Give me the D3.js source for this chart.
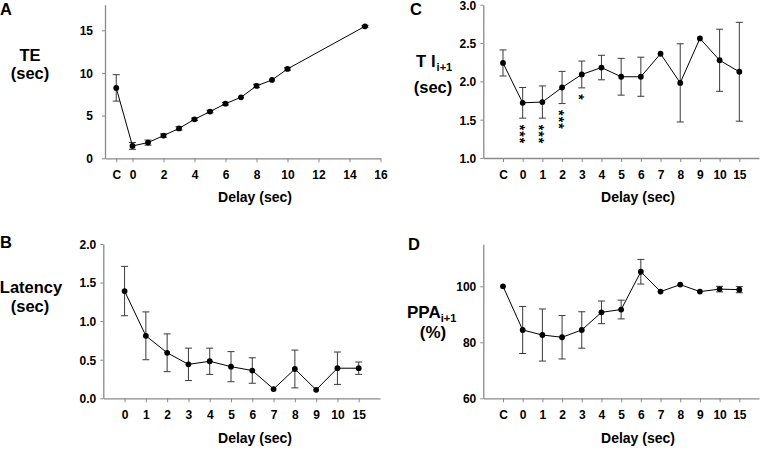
<!DOCTYPE html>
<html><head><meta charset="utf-8">
<script src="https://cdn.jsdelivr.net/npm/d3@7"></script>
<style>
body{margin:0;background:#fff;}
svg{display:block;font-family:"Liberation Sans",Arial,sans-serif;font-weight:bold;}
.stars{opacity:0.99;-webkit-font-smoothing:antialiased;}
</style></head><body>
<svg id="chart" width="760" height="450"></svg>
<script>
// ---- Panel A: TE vs delay (numeric axis, C = control) ----
const catsA = ["C","0","1","2","3","4","5","6","7","8","9","10","15"];
const delayA = [-1.05,0,1,2,3,4,5,6,7,8,9,10,15];
const teMean = [8.25,1.45,1.84,2.66,3.5,4.57,5.47,6.4,7.15,8.48,9.18,10.47,15.47];
const teErr  = [1.55,0.4,0.3,0.2,0.2,0.15,0.15,0.15,0,0.2,0,0.15,0.1];
const xTicksA = [0,2,4,6,8,10,12,14,16];
const yTicksA = [0,5,10,15];

// ---- Panel B: Latency ----
const catsB = ["0","1","2","3","4","5","6","7","8","9","10","15"];
const latMean = [1.39,0.81,0.59,0.44,0.48,0.41,0.36,0.12,0.38,0.11,0.39,0.39];
const latErr  = [0.32,0.31,0.245,0.21,0.17,0.195,0.165,0,0.245,0,0.21,0.08];
const yTicksB = [0,0.5,1,1.5,2];

// ---- Panel C: T I(i+1) ----
const catsC = ["C","0","1","2","3","4","5","6","7","8","9","10","15"];
const tiMean = [2.24,1.72,1.73,1.92,2.09,2.18,2.06,2.06,2.36,1.98,2.56,2.275,2.125];
const tiErr  = [0.17,0.2,0.21,0.21,0.175,0.16,0.24,0.255,0,0.51,0,0.405,0.645];
const tiSig  = ["","***","***","***","*","","","","","","","",""];
const yTicksC = [1,1.5,2,2.5,3];

// ---- Panel D: PPA(i+1) ----
const catsD = ["C","0","1","2","3","4","5","6","7","8","9","10","15"];
const ppaMean = [100,84.4,82.6,81.8,84.4,90.7,91.7,105.2,98.1,100.6,98.1,99.0,98.8];
const ppaErr  = [0,8.4,9.3,7.75,6.5,4.05,3.35,4.4,0,0,0,1.0,1.1];
const yTicksD = [60,80,100];

const svg = d3.select("#chart");
const AX = "#8a8a8a";

function drawPanel(o){
  const g = svg.append("g");
  const x = o.x, y = o.y;
  const [x0,x1] = x.range();
  const [yb,yt] = y.range();
  // x axis
  const xa = (o.numeric ? d3.axisBottom(x).tickValues(o.xTickVals).tickFormat(o.xFmt)
                        : d3.axisBottom(x)).tickSize(4).tickSizeOuter(0);
  const gx = g.append("g").attr("transform",`translate(0,${yb})`).call(xa);
  gx.select(".domain").attr("stroke",AX).attr("stroke-width",1.3);
  gx.selectAll(".tick line").attr("stroke",AX);
  gx.selectAll(".tick text").attr("fill","#000").attr("font-size",12).attr("font-weight","bold")
    .attr("font-family","Liberation Sans, Arial, sans-serif").attr("y",0).attr("dy",0)
    .attr("transform","translate(0,21)");
  // y axis
  const ya = d3.axisLeft(y).tickValues(o.yTicks).tickFormat(o.yFmt).tickSize(3).tickSizeOuter(0);
  const gy = g.append("g").attr("transform",`translate(${x0},0)`).call(ya);
  gy.select(".domain").attr("stroke",AX).attr("stroke-width",1.3);
  gy.selectAll(".tick line").attr("stroke",AX);
  gy.selectAll(".tick text").attr("fill","#000").attr("font-size",12).attr("font-weight","bold")
    .attr("font-family","Liberation Sans, Arial, sans-serif").attr("x",-o.labGap).attr("dy","0.36em");

  const pts = o.cats.map((c,i)=>({c, xv: o.xv ? o.xv[i] : c, m:o.mean[i], e:o.err[i], s:o.sig? o.sig[i]:""}));
  // error bars
  const eb = g.append("g").attr("stroke","#3a3a3a").attr("stroke-width",1);
  pts.filter(d=>d.e>0).forEach(d=>{
    const cx = x(d.xv);
    eb.append("line").attr("x1",cx).attr("x2",cx).attr("y1",y(d.m-d.e)).attr("y2",y(d.m+d.e));
    eb.append("line").attr("x1",cx-3.5).attr("x2",cx+3.5).attr("y1",y(d.m+d.e)).attr("y2",y(d.m+d.e));
    eb.append("line").attr("x1",cx-3.5).attr("x2",cx+3.5).attr("y1",y(d.m-d.e)).attr("y2",y(d.m-d.e));
  });
  // line
  g.append("path").datum(pts).attr("fill","none").attr("stroke","#000").attr("stroke-width",1)
    .attr("d", d3.line().x(d=>x(d.xv)).y(d=>y(d.m)));
  // dots
  g.selectAll("circle.pt").data(pts).join("circle").attr("class","pt")
    .attr("cx",d=>x(d.xv)).attr("cy",d=>y(d.m)).attr("r",2.9).attr("fill","#000");
  // significance stars, stacked vertically (one rotated text per column)
  pts.filter(d=>d.s).forEach(d=>{
    const top = y(d.m-d.e) + 6.5;
    g.append("text").attr("class","stars").attr("fill","#000")
      .attr("transform",`translate(${x(d.xv)},${top}) rotate(90)`)
      .attr("x",0).attr("y",8).attr("font-size",14).attr("letter-spacing",1.15).text(d.s);
  });
  // x title
  g.append("text").attr("x",o.xtX).attr("y",o.xtY).attr("text-anchor","middle").attr("font-size",14).text("Delay (sec)");
  // panel letter
  g.append("text").attr("x",o.letX).attr("y",o.letY).attr("font-size",16.5).text(o.letter);
  return g;
}

// Panel A
const xA = d3.scaleLinear().domain([-1.774,16]).range([105,380.5]);
const yA = d3.scaleLinear().domain([0,18]).range([158.3,4.7]);
const gA = drawPanel({x:xA,y:yA,numeric:true,xTickVals:[delayA[0]].concat(xTicksA),
  xFmt:(v)=> v===delayA[0] ? catsA[0] : d3.format("d")(v),
  yTicks:yTicksA,yFmt:d3.format("d"),labGap:12,
  cats:catsA,xv:delayA,mean:teMean,err:teErr,xtX:255,xtY:202,letter:"A",letX:0,letY:15});
gA.append("text").attr("x",30).attr("y",61).attr("text-anchor","middle").attr("font-size",16.5).text("TE");
gA.append("text").attr("x",30).attr("y",79).attr("text-anchor","middle").attr("font-size",16.5).text("(sec)");

// Panel B
const xB = d3.scalePoint().domain(catsB).range([103.3,380]).padding(1);
const yB = d3.scaleLinear().domain([0,2]).range([398.3,244]);
const gB = drawPanel({x:xB,y:yB,yTicks:yTicksB,yFmt:d3.format(".1f"),labGap:7,
  cats:catsB,mean:latMean,err:latErr,xtX:255,xtY:443,letter:"B",letX:0,letY:248});
gB.append("text").attr("x",31).attr("y",293).attr("text-anchor","middle").attr("font-size",16.5).text("Latency");
gB.append("text").attr("x",30).attr("y",312).attr("text-anchor","middle").attr("font-size",16.5).text("(sec)");

// Panel C
const xC = d3.scalePoint().domain(catsC).range([483.3,759]).padding(1);
const yC = d3.scaleLinear().domain([1,3]).range([158,4.7]);
const gC = drawPanel({x:xC,y:yC,yTicks:yTicksC,yFmt:d3.format(".1f"),labGap:7,
  cats:catsC,mean:tiMean,err:tiErr,sig:tiSig,xtX:638,xtY:202,letter:"C",letX:410,letY:15});
const tC = gC.append("text").attr("x",416).attr("y",67).attr("font-size",16.5);
tC.append("tspan").text("T");
tC.append("tspan").attr("x",431).text("I");
tC.append("tspan").attr("font-size",11).attr("dy",4).attr("dx",1).text("i+1");
gC.append("text").attr("x",433).attr("y",93).attr("text-anchor","middle").attr("font-size",16.5).text("(sec)");

// Panel D
const xD = d3.scalePoint().domain(catsD).range([483.3,759]).padding(1);
const yD = d3.scaleLinear().domain([60,115]).range([398.3,244.3]);
const gD = drawPanel({x:xD,y:yD,yTicks:yTicksD,yFmt:d3.format("d"),labGap:7,
  cats:catsD,mean:ppaMean,err:ppaErr,xtX:638,xtY:443,letter:"D",letX:408,letY:250});
const tD = gD.append("text").attr("x",407).attr("y",318).attr("font-size",17);
tD.append("tspan").text("PPA");
tD.append("tspan").attr("font-size",11).attr("dy",4).text("i+1");
gD.append("text").attr("x",433).attr("y",338).attr("text-anchor","middle").attr("font-size",17).text("(%)");
</script>
</body></html>
